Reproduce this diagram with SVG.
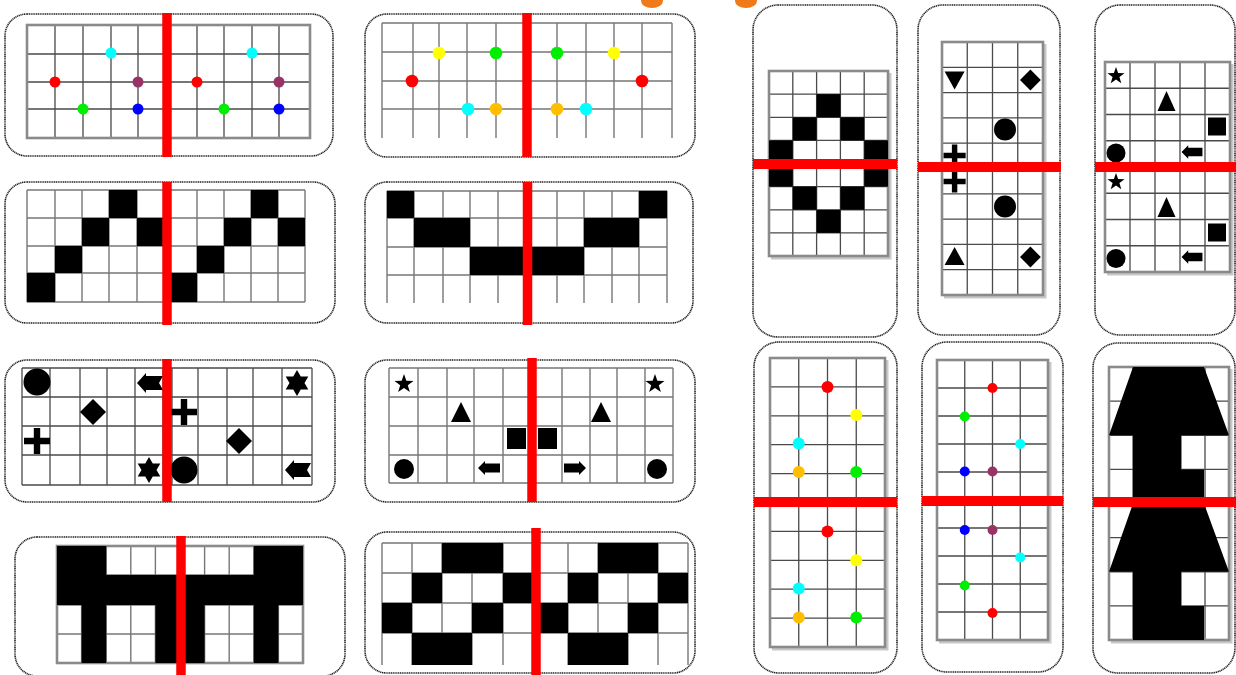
<svg xmlns="http://www.w3.org/2000/svg" width="1236" height="675" viewBox="0 0 1236 675">
<style>
.card{fill:#fff;stroke:#222;stroke-width:1.6;stroke-dasharray:1.2 0.6}
.g{fill:none;stroke:#4a4a4a;stroke-width:1.3}
.gl{fill:none;stroke:#777;stroke-width:1.4}
.fr{fill:none;stroke:#8a8a8a;stroke-width:2.6}
.sh{fill:none;stroke:#c8c8c8;stroke-width:3}
.rv{stroke:#ff0000;stroke-width:9.5}
.rh{stroke:#ff0000;stroke-width:10}
.b{fill:#000}
</style>
<defs>
<path id="dia" d="M0,-13 L13,0 L0,13 L-13,0Z"/>
<path id="plus" d="M-3.2,-13h6.4v9.8h9.8v6.4h-9.8v9.8h-6.4v-9.8h-9.8v-6.4h9.8z"/>
<path id="star6" d="M0,-13 L11.3,6.5 L-11.3,6.5Z M0,13 L-11.3,-6.5 L11.3,-6.5Z"/>
<path id="star5" d="M0,-10 L2.35,-3.24 L9.51,-3.09 L3.8,1.24 L5.88,8.09 L0,4 L-5.88,8.09 L-3.8,1.24 L-9.51,-3.09 L-2.35,-3.24Z"/>
<path id="flag" d="M-13,0 L-4,-10 L-4,-7 L13,-7 L9,0 L13,7 L-4,7 L-4,10Z"/>
<path id="arr" d="M-11,0 L-4,-7 L-4,-4.5 L11,-4.5 L11,4.5 L-4,4.5 L-4,7Z"/>
<path id="tri" d="M0,-11 L10,9 L-10,9Z"/>
</defs>

<g id="top-marks">
<ellipse cx="652" cy="1" rx="11" ry="7" fill="#f07a1a"/>
<ellipse cx="746" cy="1" rx="11" ry="7" fill="#f07a1a"/>
</g>

<g id="card1">
<rect class="card" x="5" y="14" width="328" height="142" rx="22"/>
<path class="g" d="M55 25V138M83 25V138M111 25V138M138 25V138M167 25V138M197 25V138M224 25V138M252 25V138M279 25V138M27 54H310M27 82H310M27 109H310"/>
<rect class="fr" x="27" y="25" width="283" height="113"/>
<circle cx="111" cy="53" r="5.5" fill="#00ffff"/>
<circle cx="252" cy="53" r="5.5" fill="#00ffff"/>
<circle cx="55" cy="82" r="5.5" fill="#ff0000"/>
<circle cx="138" cy="82" r="5.5" fill="#993366"/>
<circle cx="197" cy="82" r="5.5" fill="#ff0000"/>
<circle cx="279" cy="82" r="5.5" fill="#993366"/>
<circle cx="83" cy="109" r="5.5" fill="#00ee00"/>
<circle cx="138" cy="109" r="5.5" fill="#0000ff"/>
<circle cx="224" cy="109" r="5.5" fill="#00ee00"/>
<circle cx="279" cy="109" r="5.5" fill="#0000ff"/>
<line class="rv" x1="167" y1="13" x2="167" y2="157"/>
</g>

<g id="card2">
<rect class="card" x="365" y="14" width="330" height="143" rx="22"/>
<path class="gl" d="M382 23V138M413 23V138M439 23V138M467 23V138M496 23V138M557 23V138M586 23V138M614 23V138M642 23V138M672 23V138M382 23H672M382 52H672M382 81H672M382 109H672"/>
<circle cx="439" cy="53" r="6.3" fill="#ffff00"/>
<circle cx="496" cy="53" r="6.3" fill="#00ee00"/>
<circle cx="557" cy="53" r="6.3" fill="#00ee00"/>
<circle cx="614" cy="53" r="6.3" fill="#ffff00"/>
<circle cx="412" cy="81" r="6.3" fill="#ff0000"/>
<circle cx="642" cy="81" r="6.3" fill="#ff0000"/>
<circle cx="468" cy="109" r="6.3" fill="#00ffff"/>
<circle cx="496" cy="109" r="6.3" fill="#ffbf00"/>
<circle cx="557" cy="109" r="6.3" fill="#ffbf00"/>
<circle cx="586" cy="109" r="6.3" fill="#00ffff"/>
<line class="rv" x1="527" y1="13" x2="527" y2="157"/>
</g>

<g id="card3">
<rect class="card" x="5" y="182" width="330" height="141" rx="22"/>
<path class="gl" d="M27 190V302M55 190V302M82 190V302M109 190V302M137 190V302M197 190V302M224 190V302M251 190V302M278 190V302M305 190V302M27 190H305M27 218H305M27 246H305M27 273H305M27 302H305"/>
<rect class="b" x="109" y="190" width="28" height="28"/>
<rect class="b" x="82" y="218" width="27" height="28"/>
<rect class="b" x="137" y="218" width="27" height="28"/>
<rect class="b" x="55" y="246" width="27" height="27"/>
<rect class="b" x="27" y="273" width="28" height="29"/>
<rect class="b" x="251" y="190" width="27" height="28"/>
<rect class="b" x="224" y="218" width="27" height="28"/>
<rect class="b" x="278" y="218" width="27" height="28"/>
<rect class="b" x="197" y="246" width="27" height="27"/>
<rect class="b" x="171" y="273" width="26" height="29"/>
<line class="rv" x1="167" y1="182" x2="167" y2="325"/>
</g>

<g id="card4">
<rect class="card" x="365" y="182" width="328" height="141" rx="22"/>
<path class="gl" d="M387 191V303M414 191V303M443 191V303M470 191V303M498 191V303M557 191V303M584 191V303M612 191V303M639 191V303M667 191V303M387 191H667M387 218H667M387 247H667M387 275H667"/>
<rect class="b" x="387" y="191" width="27" height="27"/>
<rect class="b" x="639" y="191" width="28" height="27"/>
<rect class="b" x="414" y="218" width="56" height="29"/>
<rect class="b" x="584" y="218" width="55" height="29"/>
<rect class="b" x="470" y="247" width="114" height="28"/>
<line class="rv" x1="527.5" y1="182" x2="527.5" y2="325"/>
</g>

<g id="card5">
<rect class="card" x="5" y="360" width="330" height="142" rx="22"/>
<path class="g" d="M22 368V485M50 368V485M80 368V485M107 368V485M135 368V485M163 368V485M172 368V485M198 368V485M227 368V485M253 368V485M282 368V485M312 368V485M22 368H312M22 397H312M22 426H312M22 455H312M22 485H312"/>
<circle cx="37" cy="382" r="13.5" fill="#000"/>
<use href="#flag" x="150" y="383"/>
<use href="#dia" x="93" y="412"/>
<use href="#plus" x="37" y="441"/>
<use href="#star6" x="149" y="470"/>
<use href="#star6" x="297" y="383"/>
<use href="#plus" x="184" y="412"/>
<use href="#dia" x="239" y="441"/>
<circle cx="184" cy="470" r="13.5" fill="#000"/>
<use href="#flag" x="298" y="470"/>
<line class="rv" x1="167" y1="359" x2="167" y2="502"/>
</g>

<g id="card6">
<rect class="card" x="365" y="360" width="330" height="142" rx="22"/>
<path class="gl" d="M389 368V483M418 368V483M447 368V483M474 368V483M503 368V483M562 368V483M590 368V483M617 368V483M645 368V483M673 368V483M389 368H673M389 397H673M389 426H673M389 455H673M389 483H673"/>
<use href="#star5" x="404" y="384"/>
<use href="#tri" x="461" y="413"/>
<rect class="b" x="507" y="428" width="19" height="21"/>
<rect class="b" x="538" y="428" width="19" height="21"/>
<circle cx="404" cy="469" r="10" fill="#000"/>
<use href="#arr" x="489" y="468"/>
<use href="#arr" transform="translate(575 468) scale(-1 1)"/>
<use href="#tri" x="601" y="413"/>
<use href="#star5" x="655" y="384"/>
<circle cx="657" cy="469" r="10" fill="#000"/>
<line class="rv" x1="532" y1="358" x2="532" y2="502"/>
</g>

<g id="card7">
<rect class="card" x="15" y="537" width="330" height="139" rx="22"/>
<path class="gl" d="M81.6 546V663M106.2 546V663M130.8 546V663M155.4 546V663M180 546V663M204.6 546V663M229.2 546V663M253.8 546V663M278.4 546V663M57 575H303M57 605H303M57 634H303"/>
<rect class="fr" x="57" y="546" width="246" height="117"/>
<rect class="b" x="57" y="546" width="49.2" height="29"/>
<rect class="b" x="253.8" y="546" width="49.2" height="29"/>
<rect class="b" x="57" y="575" width="246" height="30"/>
<rect class="b" x="81.6" y="605" width="24.6" height="58"/>
<rect class="b" x="155.4" y="605" width="49.2" height="58"/>
<rect class="b" x="253.8" y="605" width="24.6" height="58"/>
<line class="rv" x1="181" y1="536" x2="181" y2="675"/>
</g>

<g id="card8">
<rect class="card" x="365" y="532" width="330" height="141" rx="22"/>
<path class="gl" d="M382 543V665M412 543V665M442 543V665M472 543V665M503 543V665M568 543V665M598 543V665M628 543V665M658 543V665M688 543V665M382 543H688M382 573H688M382 603H688M382 633H688"/>
<rect class="b" x="442" y="543" width="61" height="30"/>
<rect class="b" x="412" y="573" width="30" height="30"/>
<rect class="b" x="503" y="573" width="29" height="30"/>
<rect class="b" x="382" y="603" width="30" height="30"/>
<rect class="b" x="472" y="603" width="31" height="30"/>
<rect class="b" x="412" y="633" width="60" height="32"/>
<rect class="b" x="598" y="543" width="60" height="30"/>
<rect class="b" x="568" y="573" width="30" height="30"/>
<rect class="b" x="658" y="573" width="30" height="30"/>
<rect class="b" x="540" y="603" width="28" height="30"/>
<rect class="b" x="628" y="603" width="30" height="30"/>
<rect class="b" x="568" y="633" width="60" height="32"/>
<line class="rv" x1="536" y1="528" x2="536" y2="675"/>
</g>

<g id="card9">
<rect class="card" x="753" y="5" width="144" height="332" rx="25"/>
<path class="sh" d="M890 73V258H771"/>
<path class="g" d="M792.8 71V256M816.6 71V256M840.4 71V256M864.2 71V256M769 94.1H888M769 117.3H888M769 140.4H888M769 163.5H888M769 186.6H888M769 209.8H888M769 232.9H888"/>
<rect class="fr" x="769" y="71" width="119" height="185" stroke-width="1.8"/>
<rect class="b" x="816.6" y="94.1" width="23.8" height="23.2"/>
<rect class="b" x="792.8" y="117.3" width="23.8" height="23.1"/>
<rect class="b" x="840.4" y="117.3" width="23.8" height="23.1"/>
<rect class="b" x="769" y="140.4" width="23.8" height="23.1"/>
<rect class="b" x="864.2" y="140.4" width="23.8" height="23.1"/>
<rect class="b" x="769" y="163.5" width="23.8" height="23.1"/>
<rect class="b" x="864.2" y="163.5" width="23.8" height="23.1"/>
<rect class="b" x="792.8" y="186.6" width="23.8" height="23.2"/>
<rect class="b" x="840.4" y="186.6" width="23.8" height="23.2"/>
<rect class="b" x="816.6" y="209.8" width="23.8" height="23.1"/>
<line class="rh" x1="753" y1="164" x2="897" y2="164"/>
</g>

<g id="card10">
<rect class="card" x="918" y="5" width="142" height="330" rx="25"/>
<path class="sh" d="M1045 44V297H944"/>
<path class="g" d="M967.25 42V295M992.5 42V295M1017.75 42V295M942 67.3H1043M942 92.6H1043M942 117.9H1043M942 143.2H1043M942 168.5H1043M942 193.8H1043M942 219.1H1043M942 244.4H1043M942 269.7H1043"/>
<rect class="fr" x="942" y="42" width="101" height="253" stroke-width="1.8"/>
<use href="#tri" transform="translate(954.6 79.5) scale(1 -0.9)"/>
<use href="#dia" transform="translate(1030.4 80) scale(0.8)"/>
<circle cx="1005" cy="129.5" r="11" fill="#000"/>
<use href="#plus" transform="translate(954.6 155.5) scale(0.85)"/>
<use href="#plus" transform="translate(954.6 181.5) scale(0.85)"/>
<circle cx="1005" cy="206.5" r="11" fill="#000"/>
<use href="#tri" transform="translate(954.6 257) scale(1 0.9)"/>
<use href="#dia" transform="translate(1030.4 257) scale(0.8)"/>
<line class="rh" x1="918" y1="167" x2="1061" y2="167"/>
</g>

<g id="card11">
<rect class="card" x="1095" y="5" width="140" height="330" rx="25"/>
<path class="sh" d="M1232 64V274H1107"/>
<path class="g" d="M1130 62V272M1155 62V272M1180 62V272M1205 62V272M1105 88.25H1230M1105 114.5H1230M1105 140.75H1230M1105 167H1230M1105 193.25H1230M1105 219.5H1230M1105 245.75H1230"/>
<rect class="fr" x="1105" y="62" width="125" height="210" stroke-width="1.8"/>
<use href="#star5" transform="translate(1116 76) scale(0.9)"/>
<use href="#tri" transform="translate(1166.5 102) scale(0.9 1)"/>
<rect class="b" x="1208" y="117.5" width="18" height="18"/>
<circle cx="1116" cy="153" r="9.5" fill="#000"/>
<use href="#arr" transform="translate(1192 152) scale(0.95)"/>
<use href="#star5" transform="translate(1116 182) scale(0.9)"/>
<use href="#tri" transform="translate(1166.5 208) scale(0.9 1)"/>
<rect class="b" x="1208" y="223.5" width="18" height="18"/>
<circle cx="1116" cy="258.5" r="9.5" fill="#000"/>
<use href="#arr" transform="translate(1192 257) scale(0.95)"/>
<line class="rh" x1="1095" y1="167" x2="1236" y2="167"/>
</g>

<g id="card12">
<rect class="card" x="754" y="342" width="143" height="331" rx="25"/>
<path class="sh" d="M887 360V649H772"/>
<path class="g" d="M798.75 358V647M827.5 358V647M856.25 358V647M770 386.9H885M770 415.8H885M770 444.7H885M770 473.6H885M770 531.4H885M770 560.3H885M770 589.2H885M770 618.1H885"/>
<rect class="fr" x="770" y="358" width="115" height="289" stroke-width="1.8"/>
<circle cx="827.5" cy="386.9" r="6" fill="#ff0000"/>
<circle cx="856.25" cy="415" r="6" fill="#ffff00"/>
<circle cx="798.75" cy="443.5" r="6" fill="#00ffff"/>
<circle cx="798.75" cy="472" r="6" fill="#ffbf00"/>
<circle cx="856.25" cy="472" r="6" fill="#00ee00"/>
<circle cx="827.5" cy="531.5" r="6" fill="#ff0000"/>
<circle cx="856.25" cy="560.3" r="6" fill="#ffff00"/>
<circle cx="798.75" cy="588.5" r="6" fill="#00ffff"/>
<circle cx="798.75" cy="617.5" r="6" fill="#ffbf00"/>
<circle cx="856.25" cy="617.5" r="6" fill="#00ee00"/>
<line class="rh" x1="754" y1="502" x2="897" y2="502"/>
</g>

<g id="card13">
<rect class="card" x="922" y="342" width="141" height="330" rx="25"/>
<path class="sh" d="M1050 362V642H939"/>
<path class="g" d="M964.75 360V640M992.5 360V640M1020.25 360V640M937 388H1048M937 416H1048M937 444H1048M937 472H1048M937 500H1048M937 528H1048M937 556H1048M937 584H1048M937 612H1048"/>
<rect class="fr" x="937" y="360" width="111" height="280" stroke-width="1.8"/>
<circle cx="992.5" cy="388" r="5" fill="#ff0000"/>
<circle cx="964.75" cy="416.5" r="5" fill="#00ee00"/>
<circle cx="1020.25" cy="444" r="5" fill="#00ffff"/>
<circle cx="964.75" cy="471.5" r="5" fill="#0000ff"/>
<circle cx="992.5" cy="471.5" r="5" fill="#993366"/>
<circle cx="964.75" cy="530" r="5" fill="#0000ff"/>
<circle cx="992.5" cy="530" r="5" fill="#993366"/>
<circle cx="1020.25" cy="557.5" r="5" fill="#00ffff"/>
<circle cx="964.75" cy="585.5" r="5" fill="#00ee00"/>
<circle cx="992.5" cy="613" r="5" fill="#ff0000"/>
<line class="rh" x1="922" y1="501" x2="1063" y2="501"/>
</g>

<g id="card14">
<rect class="card" x="1093" y="343" width="142" height="330" rx="25"/>
<path class="sh" d="M1231 369V642H1111"/>
<path class="g" d="M1133 367V640M1157 367V640M1181 367V640M1205 367V640M1109 401.1H1229M1109 435.3H1229M1109 469.4H1229M1109 503.5H1229M1109 537.6H1229M1109 571.8H1229M1109 605.9H1229"/>
<rect class="fr" x="1109" y="367" width="120" height="273" stroke-width="1.8"/>
<path class="b" fill-rule="evenodd" d="M1133 367H1204L1229 435.3H1204V503.5H1133V435.3H1109ZM1181 435.3H1204V469.4H1181Z"/>
<path class="b" fill-rule="evenodd" d="M1133 503.5H1204L1229 571.8H1204V640H1133V571.8H1109ZM1181 571.8H1204V605.9H1181Z"/>
<line class="rh" x1="1093" y1="502" x2="1236" y2="502"/>
</g>
</svg>
